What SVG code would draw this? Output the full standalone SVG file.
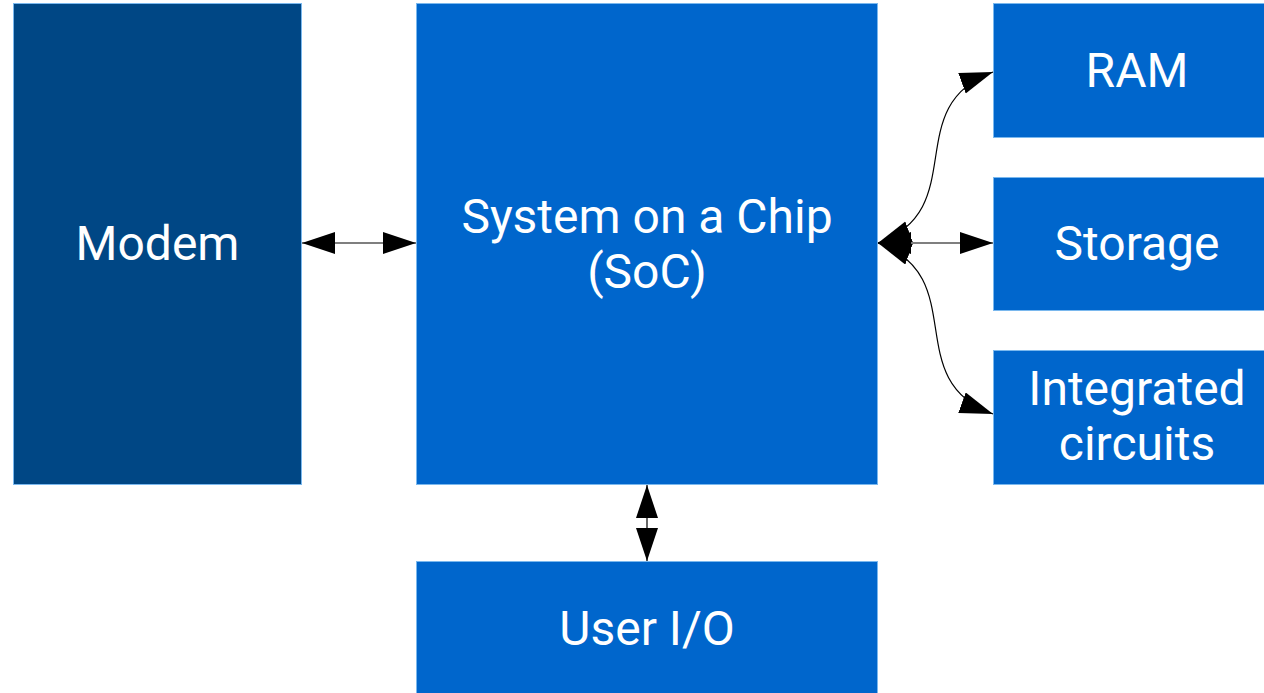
<svg xmlns="http://www.w3.org/2000/svg" width="1264" height="693" viewBox="0 0 1264 693">
<style>
.box{fill:#0066cc;stroke:#7ab8ee;stroke-width:1}
.dark{fill:#004785}
.lbl{font-family:Roboto,"Liberation Sans",sans-serif;font-size:48px;fill:#ffffff;text-anchor:middle}
.con{fill:none;stroke:#000;stroke-width:1.2}
</style>
<defs>
<marker id="ah" markerUnits="userSpaceOnUse" markerWidth="34" markerHeight="23" refX="33" refY="11" orient="auto-start-reverse" viewBox="0 0 34 23">
<path d="M0,0 L33,11 L0,22 z" fill="#000"/>
</marker>
</defs>
<rect width="1264" height="693" fill="#ffffff"/>
<g id="modem"><rect class="box dark" x="13.5" y="3.5" width="288" height="481"/><text class="lbl" x="157.5" y="260">Modem</text></g>
<g id="soc"><rect class="box" x="416.5" y="3.5" width="461" height="481"/><text class="lbl" x="647" y="233">System on a Chip</text><text class="lbl" x="647" y="288">(SoC)</text></g>
<g id="ram"><rect class="box" x="993.5" y="3.5" width="300" height="134"/><text class="lbl" x="1137" y="87">RAM</text></g>
<g id="storage"><rect class="box" x="993.5" y="177.5" width="300" height="133"/><text class="lbl" x="1137" y="260">Storage</text></g>
<g id="ic"><rect class="box" x="993.5" y="350.5" width="300" height="134"/><text class="lbl" x="1137" y="405">Integrated</text><text class="lbl" x="1137" y="460">circuits</text></g>
<g id="userio"><rect class="box" x="416.5" y="561.5" width="461" height="140"/><text class="lbl" x="647" y="645">User I/O</text></g>
<g id="connectors">
<path class="con" d="M302,243 L416,243" marker-start="url(#ah)" marker-end="url(#ah)"/>
<path class="con" d="M647,485 L647,561" marker-start="url(#ah)" marker-end="url(#ah)"/>
<path class="con" d="M878,243 L993,243" marker-start="url(#ah)" marker-end="url(#ah)"/>
<path class="con" d="M878,243 C972,209 899,106 993,72" marker-start="url(#ah)" marker-end="url(#ah)"/>
<path class="con" d="M878,243 C972,277 899,380 993,414" marker-start="url(#ah)" marker-end="url(#ah)"/>
</g>
</svg>
